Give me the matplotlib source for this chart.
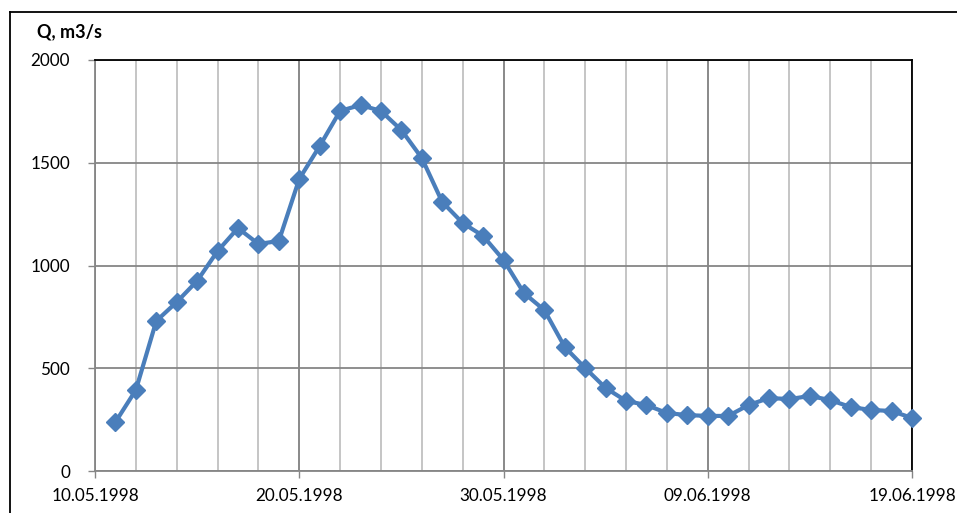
import matplotlib
matplotlib.use("Agg")
import matplotlib.pyplot as plt
import matplotlib.dates as mdates
import numpy as np
import datetime as dt

start_date = "1998-05-11"
flow = [238, 394, 730, 822, 925, 1070, 1182, 1105, 1119, 1421,
        1581, 1752, 1781, 1752, 1659, 1523, 1309, 1207, 1144, 1027,
        866, 783, 603, 501, 404, 341, 321, 282, 272, 268,
        268, 321, 355, 350, 365, 345, 311, 297, 292, 258]
y_ticks = [0, 500, 1000, 1500, 2000]
x_label_dates = ["1998-05-10", "1998-05-20", "1998-05-30", "1998-06-09", "1998-06-19"]
y_title = "Q, m3/s"

dates = [dt.date.fromisoformat(start_date) + dt.timedelta(days=i) for i in range(len(flow))]
xt = [dt.date.fromisoformat(d) for d in x_label_dates]

plt.rcParams['font.family'] = ['Lato', 'DejaVu Sans']
fig = plt.figure(figsize=(9.57, 5.13), dpi=100)
ax = fig.add_axes([95/957, 1-471/513, (912-95)/957, (471-60)/513])

x0 = mdates.date2num(xt[0]); x1 = mdates.date2num(xt[-1])
minor = np.arange(x0, x1 + 0.1, 2)
ax.set_xlim(x0, x1)
ax.set_ylim(0, 2000)
for m in minor:
    ax.axvline(m, color='#c0c0c0', lw=1.3, zorder=1)
for m in mdates.date2num(xt):
    ax.axvline(m, color='#868686', lw=1.3, zorder=1)
for yv in y_ticks:
    ax.axhline(yv, color='#868686', lw=1.3, zorder=1)

ax.plot(dates, flow, color='#4a7ebb', lw=3.0, marker='D', markersize=9,
        markeredgecolor='#4a7ebb', zorder=3, clip_on=False)

ax.set_xticks(mdates.date2num(xt))
ax.set_xticklabels([d.strftime("%d.%m.%Y") for d in xt])
ax.set_yticks(y_ticks)
ax.tick_params(axis='both', direction='out', length=5, width=1, color='#868686',
               labelsize=12.3, labelcolor='black')
ax.tick_params(axis='x', pad=7)
ax.tick_params(axis='y', pad=13)
for s in ['left', 'bottom']:
    ax.spines[s].set_color('#868686'); ax.spines[s].set_linewidth(1.3)
for s in ['top', 'right']:
    ax.spines[s].set_color('black'); ax.spines[s].set_linewidth(1.3)

fig.text(37/957, 1-32/513, y_title, fontsize=13, fontweight='bold', va='center', ha='left')

# outer chart border
fig.add_artist(plt.Line2D([10/957, 10/957], [0, 1-12/513], color='black', lw=1.3))
fig.add_artist(plt.Line2D([10/957, 1], [1-12/513, 1-12/513], color='black', lw=1.3))

fig.savefig("out.png", dpi=100)
